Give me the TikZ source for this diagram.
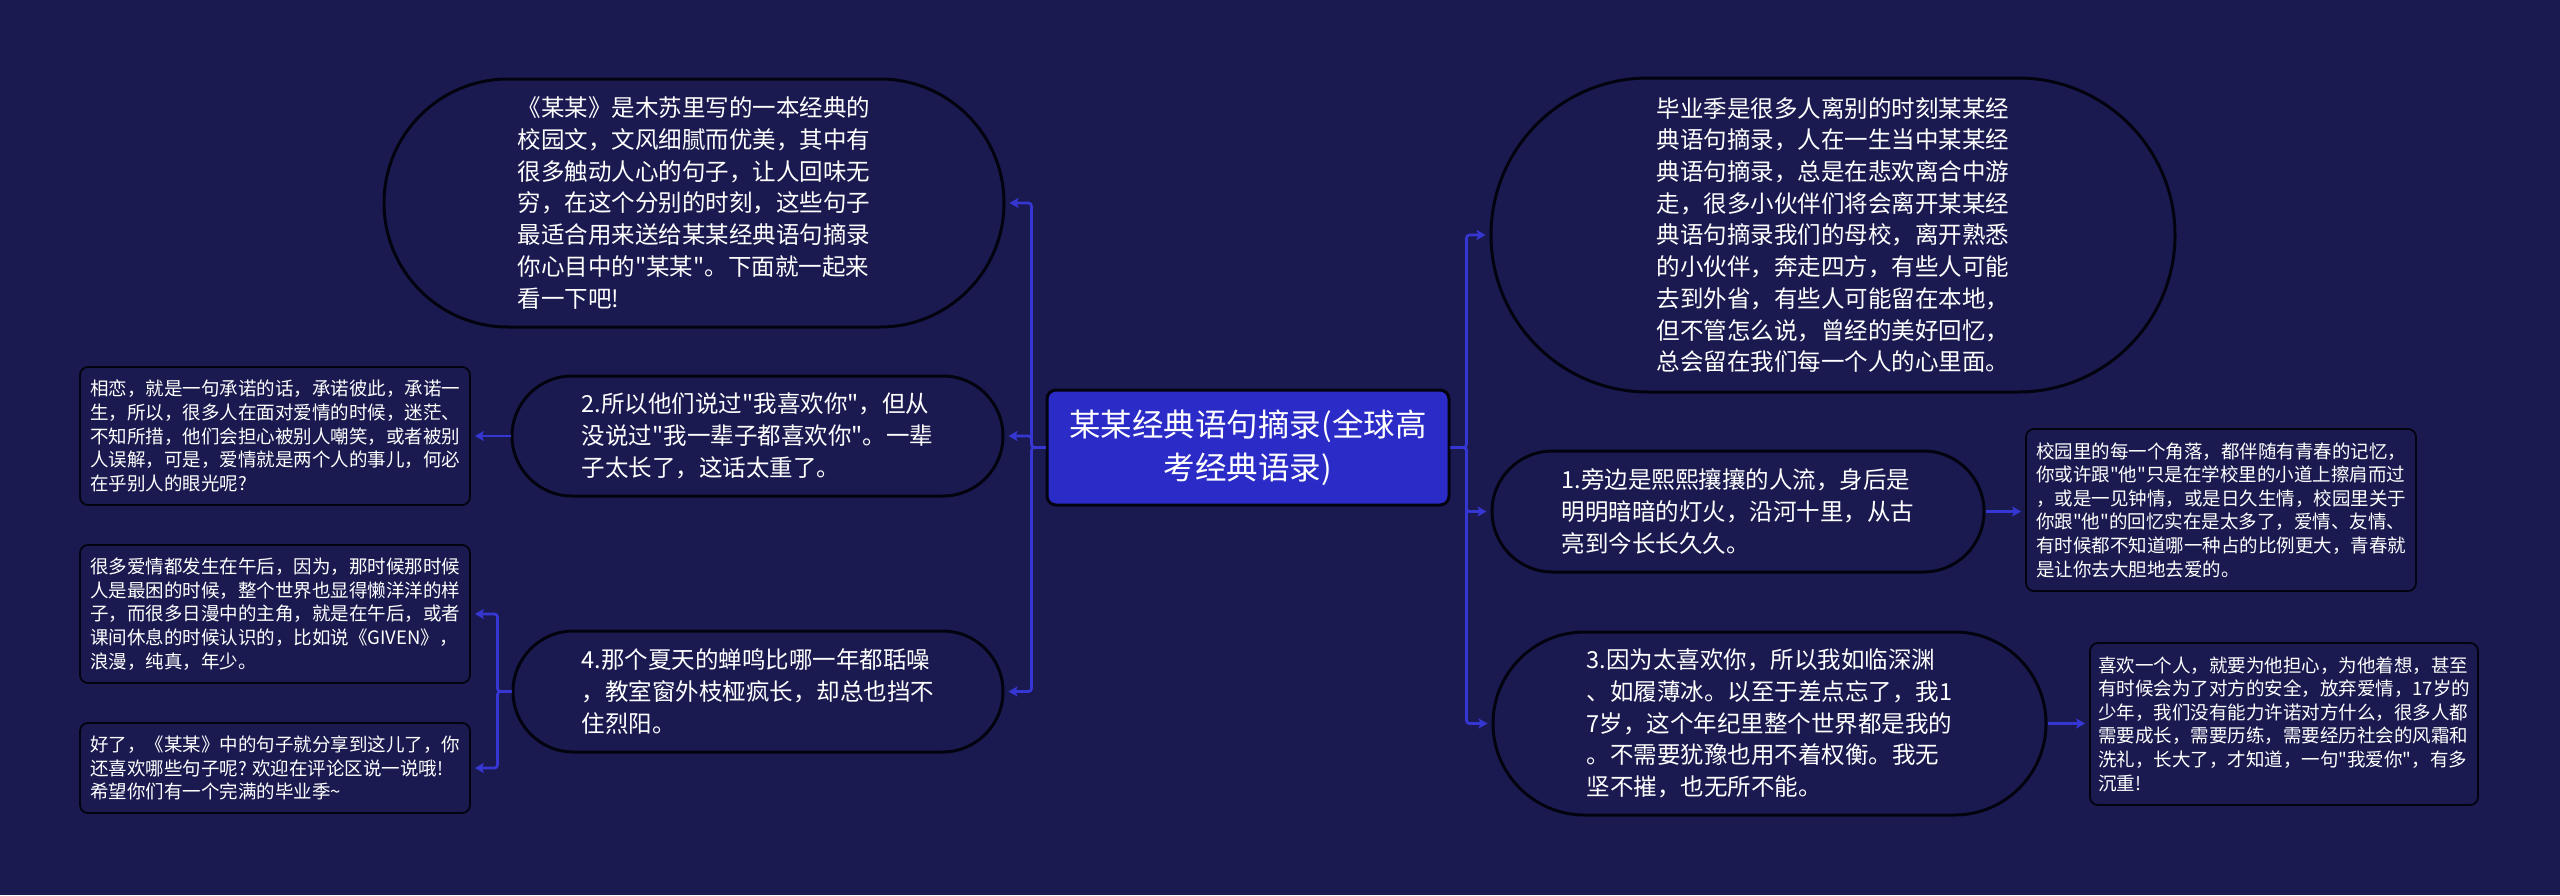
\documentclass[tikz,border=0pt]{standalone}
\usepackage{fontspec}
\newfontfamily\cjk{Noto Sans CJK SC}
\usetikzlibrary{shapes.misc,arrows.meta}
\definecolor{bg}{HTML}{1A1A50}
\definecolor{hub}{HTML}{2B2BC8}
\definecolor{link}{HTML}{3636D2}
\definecolor{edgec}{HTML}{030310}
\begin{document}
\begin{tikzpicture}[x=1pt,y=-1pt,
  pill/.style={rounded rectangle, draw=edgec, line width=3pt, fill=bg, text=white, align=left, inner sep=0pt, font=\cjk\fontsize{23.5}{31.7}\selectfont},
  note/.style={rectangle, rounded corners=8pt, draw=edgec, line width=1.8pt, fill=bg, text=white, align=left, inner sep=0pt, font=\cjk\fontsize{18.5}{23.6}\selectfont},
  hubbox/.style={rectangle, rounded corners=9pt, draw=edgec, line width=3pt, fill=hub, text=white, align=center, inner sep=0pt, font=\cjk\fontsize{31.5}{43}\selectfont},
  conn/.style={draw=link, line width=2.7pt, -{Stealth[length=9pt,width=10pt,inset=2pt]}, rounded corners=3pt, shorten >=4pt}
]
\path[use as bounding box, fill=bg] (0,0) rectangle (2560,895);

\node[hubbox, minimum width=402, minimum height=115] (hub) at (1248,447.5) {某某经典语句摘录(全球高\\考经典语录)};

\node[pill, minimum width=620, minimum height=248] (tl) at (694,203) {《某某》是木苏里写的一本经典的\\校园文，文风细腻而优美，其中有\\很多触动人心的句子，让人回味无\\穷，在这个分别的时刻，这些句子\\最适合用来送给某某经典语句摘录\\你心目中的"某某"。下面就一起来\\看一下吧!};

\node[pill, minimum width=684, minimum height=314] (tr) at (1833,235) {毕业季是很多人离别的时刻某某经\\典语句摘录，人在一生当中某某经\\典语句摘录，总是在悲欢离合中游\\走，很多小伙伴们将会离开某某经\\典语句摘录我们的母校，离开熟悉\\的小伙伴，奔走四方，有些人可能\\去到外省，有些人可能留在本地，\\但不管怎么说，曾经的美好回忆，\\总会留在我们每一个人的心里面。};

\node[pill, minimum width=491, minimum height=120] (n2) at (757.5,436) {2.所以他们说过"我喜欢你"，但从\\没说过"我一辈子都喜欢你"。一辈\\子太长了，这话太重了。};

\node[pill, minimum width=490, minimum height=121] (n4) at (758,691.5) {4.那个夏天的蝉鸣比哪一年都聒噪\\，教室窗外枝桠疯长，却总也挡不\\住烈阳。};

\node[pill, minimum width=492, minimum height=121] (n1) at (1738,511.5) {1.旁边是熙熙攘攘的人流，身后是\\明明暗暗的灯火，沿河十里，从古\\亮到今长长久久。};

\node[pill, minimum width=553, minimum height=183] (n3) at (1769.5,723.5) {3.因为太喜欢你，所以我如临深渊\\、如履薄冰。以至于差点忘了，我1\\7岁，这个年纪里整个世界都是我的\\。不需要犹豫也用不着权衡。我无\\坚不摧，也无所不能。};

\node[note, minimum width=390, minimum height=138] (b2) at (275,436) {相恋，就是一句承诺的话，承诺彼此，承诺一\\生，所以，很多人在面对爱情的时候，迷茫、\\不知所措，他们会担心被别人嘲笑，或者被别\\人误解，可是，爱情就是两个人的事儿，何必\\在乎别人的眼光呢?};

\node[note, minimum width=390, minimum height=138] (b4a) at (275,614) {很多爱情都发生在午后，因为，那时候那时候\\人是最困的时候，整个世界也显得懒洋洋的样\\子，而很多日漫中的主角，就是在午后，或者\\课间休息的时候认识的，比如说《GIVEN》，\\浪漫，纯真，年少。};

\node[note, minimum width=390, minimum height=90] (b4b) at (275,768) {好了，《某某》中的句子就分享到这儿了，你\\还喜欢哪些句子呢? 欢迎在评论区说一说哦!\\希望你们有一个完满的毕业季\textasciitilde};

\node[note, minimum width=390, minimum height=162] (b1) at (2221,510) {校园里的每一个角落，都伴随有青春的记忆，\\你或许跟"他"只是在学校里的小道上擦肩而过\\，或是一见钟情，或是日久生情，校园里关于\\你跟"他"的回忆实在是太多了，爱情、友情、\\有时候都不知道哪一种占的比例更大，青春就\\是让你去大胆地去爱的。};

\node[note, minimum width=388, minimum height=162] (b3) at (2284,724) {喜欢一个人，就要为他担心，为他着想，甚至\\有时候会为了对方的安全，放弃爱情，17岁的\\少年，我们没有能力许诺对方什么，很多人都\\需要成长，需要历练，需要经历社会的风霜和\\洗礼，长大了，才知道，一句"我爱你"，有多\\沉重!};

\draw[conn] (hub.west) -- ++(-14,0) |- (tl.east);
\draw[conn] (hub.west) -- ++(-14,0) |- (n2.east);
\draw[conn] (hub.west) -- ++(-14,0) |- (n4.east);
\draw[conn] (hub.east) -- ++(16,0) |- (tr.west);
\draw[conn] (hub.east) -- ++(16,0) |- (n1.west);
\draw[conn] (hub.east) -- ++(16,0) |- (n3.west);
\draw[conn] (n2.west) -- (n2.west -| b2.east);
\draw[conn] (n4.west) -- ++(-14,0) |- (b4a.east);
\draw[conn] (n4.west) -- ++(-14,0) |- (b4b.east);
\draw[conn] (n1.east) -- (n1.east -| b1.west);
\draw[conn] (n3.east) -- (n3.east -| b3.west);
\end{tikzpicture}
\end{document}
